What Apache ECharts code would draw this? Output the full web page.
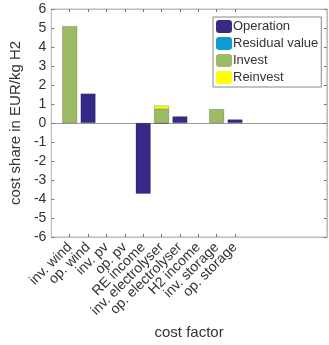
<!DOCTYPE html>
<html>
<head>
<meta charset="utf-8">
<script src="https://cdn.jsdelivr.net/npm/echarts@6/dist/echarts.min.js"></script>
<style>html,body{margin:0;padding:0;background:#fff}#c{width:329px;height:345px}</style>
</head>
<body>
<div id="c"></div>
<script>
var categories = ['inv. wind','op. wind','inv. pv','op. pv','RE income','inv. electrolyser','op. electrolyser','H2 income','inv. storage','op. storage'];
var operation = [0, 1.55, 0, 0, -3.72, 0, 0.35, 0, 0, 0.19];
var residualValue = [0, 0, 0, 0, 0, -0.03, 0, 0, 0, 0];
var invest = [5.1, 0, 0, 0, 0, 0.73, 0, 0, 0.73, 0];
var reinvest = [0, 0, 0, 0, 0, 0.19, 0, 0, 0, 0];
var yTicks = [-6,-5,-4,-3,-2,-1,0,1,2,3,4,5,6];

// axis slots: one empty slot before the categories, five after (x-limits 0..15)
var slots = [''].concat(categories, ['', '', '', '', '']);
function pad(arr){ return [null].concat(arr.map(function(v){ return v === 0 ? null : v; }), [null, null, null, null, null]); }

var textColor = '#333';
var axisColor = '#bdbdbd';
var font = 'Liberation Sans, Arial, sans-serif';

function mk(name, arr, color){
  return {
    name: name, type: 'bar', stack: 'total', data: pad(arr),
    barWidth: 15, xAxisIndex: 0, yAxisIndex: 0,
    itemStyle: { color: color, borderColor: 'rgba(0,0,0,0.35)', borderWidth: 0.6 }
  };
}

var series = [
  mk('Operation', operation, '#352a87'),
  mk('Residual value', residualValue, '#0d9bd6'),
  mk('Invest', invest, '#9bbb65'),
  mk('Reinvest', reinvest, '#ffff00')
];

function hasLabel(i, v){ return v !== ''; }

var chart = echarts.init(document.getElementById('c'));
chart.setOption({
  animation: false,
  backgroundColor: '#fff',
  textStyle: { fontFamily: font },
  tooltip: { show: false },
  grid: { left: 46, right: 2, top: 9, bottom: 107, show: true, borderColor: axisColor, borderWidth: 1 },
  legend: {
    orient: 'vertical', left: 213, top: 17,
    itemWidth: 16, itemHeight: 13, itemGap: 4,
    padding: [3, 3, 3, 3],
    backgroundColor: '#fff', borderColor: '#888', borderWidth: 1,
    textStyle: { fontSize: 13, color: textColor, fontFamily: font, padding: [0,0,0,-4] },
    data: ['Operation','Residual value','Invest','Reinvest'],
    itemStyle: { borderWidth: 0 }
  },
  xAxis: [{
    type: 'category', data: slots, boundaryGap: false, position: 'bottom',
    name: 'cost factor', nameLocation: 'middle', nameGap: 86,
    nameTextStyle: { fontSize: 15, color: textColor },
    axisLine: { show: true, onZero: false, lineStyle: { color: axisColor } },
    axisTick: { show: true, inside: true, length: 3, interval: hasLabel, lineStyle: { color: '#777' } },
    axisLabel: { rotate: 45, fontSize: 14, color: textColor, margin: 8, interval: 0 },
    splitLine: { show: false }
  }, {
    type: 'category', data: slots, boundaryGap: false, position: 'top',
    axisLine: { show: true, onZero: false, lineStyle: { color: axisColor } },
    axisTick: { show: true, inside: true, length: 3, interval: hasLabel, lineStyle: { color: '#777' } },
    axisLabel: { show: false }, splitLine: { show: false }
  }, {
    // baseline at y = 0
    type: 'category', data: slots, boundaryGap: false, position: 'bottom',
    axisLine: { show: true, onZero: true, lineStyle: { color: '#9a9a9a', width: 1 } },
    axisTick: { show: false }, axisLabel: { show: false }, splitLine: { show: false }
  }],
  yAxis: [{
    type: 'value', min: -6, max: 6, interval: 1,
    name: 'cost share in EUR/kg H2', nameLocation: 'middle', nameGap: 20,
    nameTextStyle: { fontSize: 15, color: textColor },
    axisLine: { show: true, onZero: false, lineStyle: { color: axisColor } },
    axisTick: { show: true, inside: true, length: 3, lineStyle: { color: '#777' } },
    axisLabel: { fontSize: 14, color: textColor, margin: 5, customValues: yTicks },
    splitLine: { show: false }
  }, {
    type: 'value', min: -6, max: 6, interval: 1, position: 'right',
    axisLine: { show: true, onZero: false, lineStyle: { color: axisColor } },
    axisTick: { show: true, inside: true, length: 3, lineStyle: { color: '#777' } },
    axisLabel: { show: false }, splitLine: { show: false }
  }],
  series: series
});
</script>
</body>
</html>
